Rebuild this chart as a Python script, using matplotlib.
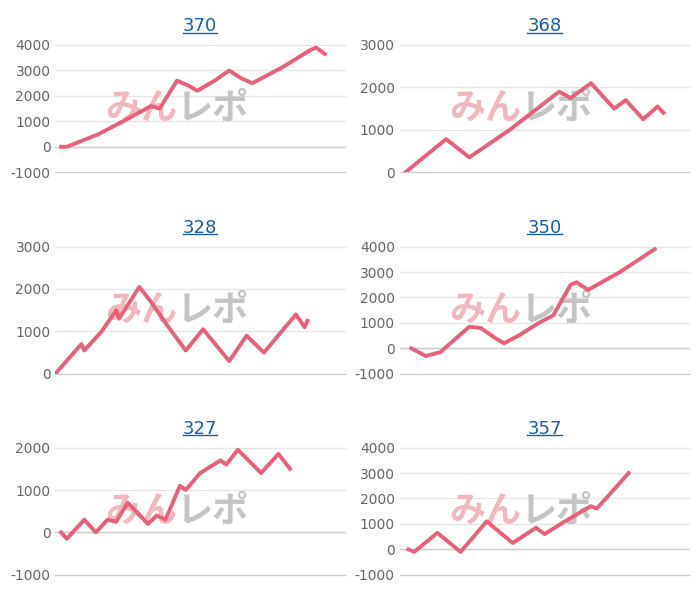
import matplotlib
matplotlib.use('Agg')
import matplotlib.pyplot as plt
from matplotlib.lines import Line2D

plt.rcParams['axes.unicode_minus'] = False

# chart data: progress (0-100 % of period) and balance values
titles = ['370', '368', '328', '350', '327', '357']
xs = [
    [2, 4, 15, 25, 33, 36, 42, 46, 49, 55, 60, 64, 68, 78, 88, 90, 93],
    [2, 16, 24, 38, 55, 59, 66, 74, 78, 84, 89, 91],
    [0, 9, 10, 16, 21, 22, 29, 33, 38, 45, 51, 60, 66, 72, 83, 86, 87],
    [4, 9, 14, 24, 28, 33, 36, 41, 48, 53, 59, 61, 65, 76, 88],
    [2, 4, 10, 14, 18, 21, 25, 32, 35, 38, 43, 45, 50, 57, 59, 63, 71, 77, 81],
    [3, 5, 13, 21, 30, 39, 47, 50, 57, 66, 68, 79],
]
ys = [
    [0, 0, 500, 1100, 1600, 1500, 2600, 2400, 2200, 2600, 3000, 2700, 2500, 3100, 3800, 3900, 3650],
    [0, 780, 350, 1000, 1900, 1750, 2100, 1500, 1700, 1250, 1550, 1400],
    [0, 700, 550, 1000, 1500, 1300, 2050, 1700, 1200, 550, 1050, 300, 900, 500, 1400, 1100, 1250],
    [0, -300, -150, 850, 800, 400, 200, 500, 1000, 1300, 2500, 2600, 2300, 3000, 3900],
    [0, -150, 300, 0, 300, 250, 700, 200, 400, 300, 1100, 1000, 1400, 1700, 1600, 1950, 1400, 1850, 1500],
    [0, -100, 650, -100, 1100, 250, 850, 600, 1100, 1700, 1600, 3000],
]
ylims = [(-1000, 4000), (0, 3000), (0, 3000), (-1000, 4000), (-1000, 2000), (-1000, 4000)]

fig = plt.figure(figsize=(7, 6), dpi=100)
lefts = [0.079, 0.571]
bottoms = [0.713, 0.377, 0.042]

for i in range(6):
    ax = fig.add_axes([lefts[i % 2], bottoms[i // 2], 0.414, 0.212])
    lo, hi = ylims[i]
    ax.set_ylim(lo, hi)
    ax.set_xlim(0, 100)
    ax.set_yticks(range(lo, hi + 1, 1000))
    ax.grid(axis='y', color='#e6e6e6', linewidth=1, clip_on=False)
    ax.set_axisbelow(True)
    for s in ['top', 'right', 'left']:
        ax.spines[s].set_visible(False)
    ax.spines['bottom'].set_color('#cccccc')
    ax.set_xticks([])
    ax.tick_params(axis='y', length=0, labelsize=10, labelcolor='#666666')
    if lo < 0:
        ax.axhline(0, color='#cccccc', linewidth=1)
    # watermark
    ax.text(0.42, 0.5, 'みん', transform=ax.transAxes, ha='right', va='center',
            fontsize=26, fontweight='bold', style='italic', color='#f0b8be',
            family=['Noto Sans CJK JP'], zorder=1)
    ax.text(0.42, 0.5, 'レポ', transform=ax.transAxes, ha='left', va='center',
            fontsize=26, fontweight='bold', style='italic', color='#c4c4c4',
            family=['Noto Sans CJK JP'], zorder=1)
    ax.plot(xs[i], ys[i], color='#e8607a', linewidth=2.8, zorder=3)
    ax.set_title(titles[i], color='#1a5fa8', fontsize=13, pad=10)

fig.canvas.draw()
r = fig.canvas.get_renderer()
for ax in fig.axes:
    bb = ax.title.get_window_extent(r).transformed(fig.transFigure.inverted())
    fig.add_artist(Line2D([bb.x0, bb.x1], [bb.y0 + 0.004, bb.y0 + 0.004],
                          color='#1a5fa8', linewidth=1, transform=fig.transFigure))

fig.savefig('out.png', dpi=100)
